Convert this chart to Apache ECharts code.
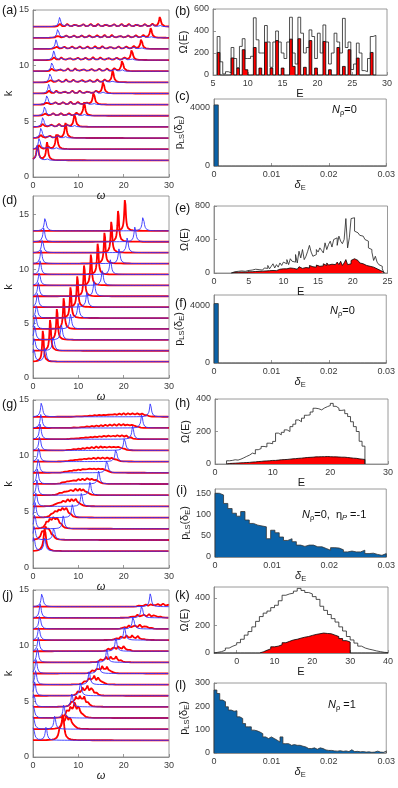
<!DOCTYPE html>
<html><head><meta charset="utf-8">
<script src="https://cdn.jsdelivr.net/npm/echarts@6/dist/echarts.min.js"></script>
<style>html,body{margin:0;padding:0;background:#fff}#c{width:398px;height:788px}</style>
</head><body><div id="c"></div>
<script>
// ---------------- data ----------------
const omegaTicks = [0, 10, 20, 30];
const kTicks = [0, 5, 10, 15];
const rowBase = [1.5, 2.5, 3.5, 4.5, 5.5, 6.5, 7.5, 8.5, 9.5, 10.5, 11.5, 12.5, 13.5];

// panel (a): main peaks per row, plus evenly spaced side bumps between them
const aBlueMain = [1.0, 1.4, 1.8, 2.2, 2.6, 3.1, 3.5, 3.8, 4.2, 4.6, 5.1, 5.5, 5.9];
const aBlueH    = [1.3, 1.1, 1.0, 0.95, 0.9, 0.9, 0.85, 0.85, 0.85, 0.85, 0.85, 0.85, 0.85];
const aRedMain  = [3.1, 5.2, 7.2, 9.2, 11.3, 13.4, 15.5, 17.6, 19.7, 21.8, 23.9, 26.0, 28.0];
const aRedH     = [1.6, 1.5, 1.4, 1.3, 1.25, 1.2, 1.15, 1.1, 1.05, 1.0, 0.95, 0.9, 0.9];
const aRedAtBlue = [1.5, 0.4, 0.3, 0.3, 0.25, 0.25, 0.25, 0.25, 0.25, 0.25, 0.25, 0.25, 0.25];
const aBumpBlue = 0.22, aBumpRed = 0.25;

// panel (d)
const dBlueLow  = [0.2, 0.3, 0.4, 0.6, 0.8, 1.0, 1.2, 1.4, 1.6, 1.8, 2.1, 2.4, 2.7];
const dBlueHigh = [2.7, 4.5, 6.3, 8.3, 10.0, 11.9, 13.5, 15.3, 17.1, 19.0, 20.8, 22.5, 24.3];
const dRed      = [2.2, 3.8, 5.3, 6.8, 8.3, 9.8, 11.3, 12.8, 14.3, 15.8, 17.3, 18.8, 20.3];
const dBlueLowH = 1.3, dBlueHighH = 1.4, dRedH = 3.0;

// panel (g)
const gBlueLow  = [0.2, 0.3, 0.4, 0.5, 0.7, 0.9, 1.0, 1.2, 1.3, 1.5, 1.6, 1.8, 1.9];
const gBlueHigh = [2.6, 4.6, 6.7, 8.7, 10.7, 12.6, 14.5, 16.3, 18.3, 20.2, 22.0, 24.0, 25.9];
// red ripples: [first position, spacing, heights]
const gRed = [
  [2.6, 1.0, [2.0]],
  [2.0, 0.8, [0.6, 1.0, 0.9, 0.3]],
  [3.0, 0.8, [0.5, 0.8, 0.9, 0.9, 0.3]],
  [4.2, 0.8, [0.35, 0.5, 0.6, 0.7, 0.7, 0.25]],
  [5.0, 0.9, [0.2, 0.35, 0.45, 0.5, 0.55, 0.55, 0.2]],
  [5.8, 0.9, [0.15, 0.25, 0.35, 0.4, 0.45, 0.45, 0.45, 0.2]],
  [6.5, 0.9, [0.1, 0.2, 0.25, 0.3, 0.35, 0.38, 0.4, 0.4, 0.4, 0.15]],
  [7.0, 0.95, [0.08, 0.15, 0.2, 0.25, 0.3, 0.32, 0.35, 0.35, 0.35, 0.35, 0.15]],
  [7.5, 1.0, [0.06, 0.1, 0.15, 0.2, 0.25, 0.28, 0.3, 0.32, 0.33, 0.33, 0.33, 0.15]],
  [8.0, 1.0, [0.05, 0.08, 0.12, 0.16, 0.2, 0.24, 0.27, 0.3, 0.31, 0.32, 0.32, 0.32, 0.15]],
  [8.5, 1.0, [0.04, 0.06, 0.1, 0.13, 0.17, 0.2, 0.23, 0.26, 0.28, 0.3, 0.3, 0.3, 0.3, 0.13]],
  [9.0, 1.0, [0.03, 0.05, 0.08, 0.11, 0.14, 0.17, 0.2, 0.23, 0.25, 0.27, 0.28, 0.29, 0.29, 0.29, 0.12]],
  [9.5, 1.05, [0.02, 0.04, 0.06, 0.09, 0.12, 0.15, 0.18, 0.2, 0.22, 0.24, 0.26, 0.27, 0.28, 0.28, 0.28, 0.1]]
];

// panel (j)
const jBlueLow  = [0.1, 0.1, 0.1, 0.2, 0.4, 0.6, 0.7, 1.0, 1.2, 1.3, 1.5, 1.6, 2.0];
const jBlueHigh = [2.9, 4.8, 6.8, 8.6, 10.5, 12.4, 14.4, 16.3, 18.3, 20.2, 22.1, 24.0, 25.9];
const jRed = [
  [5.9, 0.7, [0.8, 2.4]],
  [6.6, 0.8, [0.8, 1.1, 1.0, 0.3]],
  [7.5, 0.85, [0.6, 1.0, 1.2, 1.0, 0.3]],
  [8.6, 0.9, [0.5, 0.8, 0.9, 0.8, 0.3]],
  [10.0, 1.0, [0.4, 0.7, 0.8, 0.7, 0.2]],
  [11.5, 1.0, [0.35, 0.6, 0.7, 0.65, 0.2]],
  [13.2, 1.05, [0.3, 0.5, 0.6, 0.55, 0.15]],
  [15.0, 1.1, [0.25, 0.45, 0.5, 0.5, 0.15]],
  [16.6, 1.15, [0.2, 0.4, 0.45, 0.45, 0.12]],
  [18.3, 1.2, [0.15, 0.35, 0.4, 0.4, 0.35, 0.1]],
  [20.0, 1.2, [0.15, 0.3, 0.35, 0.35, 0.3, 0.1]],
  [21.8, 1.25, [0.12, 0.25, 0.3, 0.3, 0.28, 0.1]],
  [23.5, 1.3, [0.1, 0.2, 0.25, 0.25, 0.25, 0.2]]
];

// panel (b) histogram, bins of 0.4 starting at 5.6
const bStart = 5.6, bWidth = 0.4;
const bAll = [350,120,10,30,20,250,150,65,260,330,150,150,170,520,320,200,200,450,300,70,300,400,300,200,150,300,525,200,100,525,380,200,250,410,350,150,380,200,455,300,100,200,380,300,200,515,250,300,50,100,290,200,40,30,150,350,360];
const bRed = [205,0,0,0,0,155,0,63,0,230,48,0,0,250,0,63,0,298,0,63,0,313,0,63,0,0,326,78,0,330,0,70,0,313,0,63,0,0,305,0,48,0,0,250,0,78,0,230,0,0,154,0,0,0,0,205,0];

// panel (e) histogram, bins of 0.25 starting at 2.5
const eStart = 2.5, eWidth = 0.25;
const eAll = [10,15,12,20,18,25,15,20,22,30, 25,35,30,45,28,40,50,35,45,60, 55,90,50,80,110,60,100,70,120,90,
  130,110,160,100,170,140,130,220,120,260, 180,280,160,200,260,330,250,200,220,280, 250,300,270,240,360,280,340,380,310,400,
  420,330,440,380,350,400,650,300,420,650, 660,500,480,470,450,440,420,400,380,300, 280,250,150,200,130,100,80,50];
const eRed = [5,8,5,10,8,12,8,10,12,14, 10,15,12,18,15,20,18,22,20,25, 22,28,25,30,40,28,35,45,30,50,
  40,50,45,60,50,55,70,45,60,75, 55,70,65,80,60,90,75,85,70,95, 80,100,85,110,90,120,95,105,125,100,
  110,130,100,140,90,120,160,100,110,150, 170,165,150,140,120,110,100,90,85,80, 75,70,60,50,40,30,20,10];

// panel (h) histogram, bins of 0.5 starting at 2
const hStart = 2, hWidth = 0.5;
const hAll = [20,22,26,24,30,38,47,55,67,62,88,95,108,105,128,125,139,190,180,195,210,200,230,245,271,260,282,300,302,320,343,340,333,345,353,360,373,355,343,330,333,310,292,260,230,200,140,110];
const hRed = [3,4,5,6,7,8,9,10,12,13,15,16,18,19,20,22,22,24,26,27,28,30,32,33,35,36,38,40,41,42,44,44,45,45,46,45,44,44,43,42,42,40,38,36,35,32,30,28];

// panel (k) histogram, bins of 1 starting at -6
const kStart = -6, kWidth = 1;
const kAll = [5,10,20,36,50,60,75,100,130,156,190,230,265,290,305,330,347,380,420,430,435,450,470,455,440,430,410,390,340,310,280,250,225,190,160,120,95,72,50,36,28,22,15,10,5,3];
const kRed = [0,0,0,0,0,0,0,0,0,0,0,0,8,20,30,45,50,60,75,85,95,100,108,115,120,128,135,140,145,142,140,130,120,105,90,80,0,0,0,0,0,0,0,0,0,0];

// level-spacing histograms
const cWidth = 0.00075;
const cVals = [4150,0,0,0,0,0,0,0,0,0,0,0,0,0,0,0,0,0,0,0,0,0,0,0,0,0,0,0,0,0,0,0,0,0,0,0,0,0,0,0];
const fVals = [4150,0,0,0,0,0,0,0,0,0,0,0,0,0,0,0,0,0,0,0,0,0,0,0,0,0,0,0,0,0,0,0,0,0,0,0,0,0,0,0];
const iVals = [150,146,126,114,103,96,107,87,79,75,73,71,43,63,57,47,39,43,36,28,25,28,28,24,24,20,16,22,21,17,12,14,12,12,16,8,9,6,4,8];
const lWidth = 0.0005;
const lVals = [270,255,227,220,198,184,179,181,155,148,126,112,112,98,95,90,83,69,62,69,62,55,47,69,40,40,33,36,33,33,29,26,19,19,22,16,22,19,13,11,11,9,8,10,7,9,6,14,6,7,5,6,4,5,3,4,8,4,3,7];

// ---------------- helpers ----------------
const FONT = '"Liberation Sans", Arial, Helvetica, sans-serif';
const AX = '#808080';
const RED = '#ff0000', BLUE = '#3434ff';
const XN = 600;

function lorentz(peaks, gamma, base) {
  const d = [];
  for (let i = 0; i <= XN; i++) {
    const x = i * 30 / XN;
    let y = base;
    for (const p of peaks) y += p[1] / (1 + ((x - p[0]) / (p[2] || gamma)) ** 2);
    d.push([x, y]);
  }
  return d;
}
function ripple(spec) {
  return spec[2].map((h, j) => [spec[0] + j * spec[1], h]);
}
function stepData(start, w, vals) {
  const d = [[start, 0]];
  vals.forEach((v, i) => d.push([start + i * w, v]));
  d.push([start + vals.length * w, vals[vals.length - 1]]);
  d.push([start + vals.length * w, 0]);
  return d;
}

const grids = [], xAxis = [], yAxis = [], series = [], graphic = [];
const rich = {
  m: { fontSize: 11, fontFamily: FONT, color: '#1a1a1a', lineHeight: 14 },
  mi: { fontSize: 11, fontFamily: FONT, fontStyle: 'italic', color: '#1a1a1a', lineHeight: 14 },
  s: { fontSize: 7.5, fontFamily: FONT, color: '#1a1a1a', lineHeight: 8, verticalAlign: 'bottom' }
};
function axisBase(gi, min, max, labels, ticks, name, nameGap, extra) {
  return Object.assign({
    type: 'value', gridIndex: gi, min: min, max: max,
    axisLine: { show: true, onZero: false, lineStyle: { color: AX, width: 0.8 } },
    axisTick: { show: true, inside: true, length: 3, customValues: ticks, lineStyle: { color: AX, width: 0.8 } },
    axisLabel: { show: true, customValues: labels, fontSize: 9, color: '#3a3a3a', fontFamily: FONT, margin: 4,
      formatter: v => String(+(+v).toPrecision(6)) },
    splitLine: { show: false },
    name: name, nameLocation: 'middle', nameGap: nameGap,
    nameTextStyle: { fontSize: 11, fontFamily: FONT, color: '#1a1a1a', rich: rich }
  }, extra || {});
}
function addPanel(box, x, y) {
  const gi = grids.length;
  grids.push({ left: box[0], top: box[1], width: box[2], height: box[3], show: true, borderColor: AX, borderWidth: 0.8, backgroundColor: 'transparent' });
  xAxis.push(axisBase(gi, x[0], x[1], x[2], x[3] || x[2], x[4], x[5], x[6]));
  yAxis.push(axisBase(gi, y[0], y[1], y[2], y[3] || y[2], y[4], y[5], y[6]));
  return gi;
}
function line(gi, data, color, width, z) {
  series.push({ type: 'line', xAxisIndex: gi, yAxisIndex: gi, data: data, symbol: 'none', silent: true,
    animation: false, lineStyle: { color: color, width: width }, z: z });
}
function hist(gi, data, lineColor, fill, z) {
  series.push({ type: 'line', step: 'end', xAxisIndex: gi, yAxisIndex: gi, data: data, symbol: 'none', silent: true,
    animation: false, lineStyle: { color: lineColor, width: 0.8 }, areaStyle: fill ? { color: fill, opacity: 1 } : undefined, z: z });
}

const omegaName = '{mi|ω}';
// ---------------- waterfall panels ----------------
function waterfall(box, ymax, redRows, blueRows, gRedW, gBlueW) {
  const gi = addPanel(box, [0, 30, omegaTicks, null, omegaName, 8],
    [0, ymax, kTicks, null, 'k', 19]);
  redRows.forEach((pk, i) => line(gi, lorentz(pk, gRedW, rowBase[i]), RED, 1.8, 2));
  blueRows.forEach((pk, i) => line(gi, lorentz(pk, gBlueW, rowBase[i]), BLUE, 0.9, 3));
}
// (a)
{
  const red = [], blue = [];
  rowBase.forEach((b, i) => {
    const n = i + 1, sp = (aRedMain[i] - aBlueMain[i]) / n;
    const r = [[aRedMain[i], aRedH[i]], [aBlueMain[i], aRedAtBlue[i]]];
    const bl = [[aBlueMain[i], aBlueH[i]], [aRedMain[i], 0.12]];
    for (let j = 1; j < n; j++) { r.push([aBlueMain[i] + j * sp, aBumpRed]); bl.push([aBlueMain[i] + j * sp, aBumpBlue]); }
    red.push(r); blue.push(bl);
  });
  waterfall([33, 10, 136, 167], 15, red, blue, 0.25, 0.25);
}
// (d)
waterfall([33, 196, 136, 182], 16.7,
  dRed.map(p => [[p, dRedH]]),
  dBlueLow.map((p, i) => [[p, dBlueLowH], [dBlueHigh[i], dBlueHighH]]), 0.2, 0.25);
// (g)
waterfall([33, 400, 136, 168], 15,
  gRed.map(ripple),
  gBlueLow.map((p, i) => [[p, 1.4], [gBlueHigh[i], 1.2]]), 0.33, 0.25);
// (j)
waterfall([33, 590, 136, 167], 15,
  jRed.map(ripple),
  jBlueLow.map((p, i) => [[p, 1.3], [jBlueHigh[i], 1.2]]), 0.3, 0.25);

// ---------------- density of states panels ----------------
const omegaE = '{m|Ω(E)}';
let gi;
gi = addPanel([213, 9, 174, 66], [5, 30, [5, 10, 15, 20, 25, 30], null, 'E', 8], [0, 600, [0, 200, 400, 600], null, omegaE, 22]);
hist(gi, stepData(bStart, bWidth, bRed), '#000', RED, 2);
hist(gi, stepData(bStart, bWidth, bAll), '#222', null, 3);

gi = addPanel([214, 206, 173.5, 67], [0, 25, [0, 5, 10, 15, 20, 25], null, 'E', 8], [0, 800, [0, 400, 800], null, omegaE, 22]);
hist(gi, stepData(eStart, eWidth, eRed), '#000', RED, 2);
hist(gi, stepData(eStart, eWidth, eAll), '#222', null, 3);

gi = addPanel([215, 399, 173, 65], [0, 30, [0, 10, 20, 30], null, 'E', 8], [0, 400, [0, 200, 400], null, omegaE, 22]);
hist(gi, stepData(hStart, hWidth, hRed), '#000', RED, 2);
hist(gi, stepData(hStart, hWidth, hAll), '#222', null, 3);

gi = addPanel([214, 587, 174, 66], [-6, 40, [0, 10, 20, 30, 40], null, 'E', 8], [0, 480, [0, 200, 400], null, omegaE, 22]);
hist(gi, stepData(kStart, kWidth, kRed), '#000', RED, 2);
hist(gi, stepData(kStart, kWidth, kAll), '#222', null, 3);

// ---------------- level spacing panels ----------------
const deltaTicks = [0, 0.01, 0.02, 0.03];
const deltaName = '{mi|δ}{s|E}';
const pName = '{m|p}{s|LS}{m|(δ}{s|E}{m|)}';
const BLUEBAR = '#0a62a8';
gi = addPanel([214, 99, 174, 67], [0, 0.03, deltaTicks, null, deltaName, 10], [0, 4550, [0, 4000], [0, 2000, 4000], pName, 22]);
hist(gi, stepData(0, cWidth, cVals), '#333', BLUEBAR, 2);
gi = addPanel([214, 295, 173.5, 68], [0, 0.03, deltaTicks, null, deltaName, 10], [0, 4750, [0, 4000], [0, 2000, 4000], pName, 22]);
hist(gi, stepData(0, cWidth, fVals), '#333', BLUEBAR, 2);
gi = addPanel([215, 489, 173, 68], [0, 0.03, deltaTicks, null, deltaName, 10], [0, 160, [0, 50, 100, 150], null, pName, 22]);
hist(gi, stepData(0, cWidth, iVals), '#333', BLUEBAR, 2);
gi = addPanel([214, 683, 174, 70], [0, 0.03, deltaTicks, null, deltaName, 10], [0, 300, [0, 100, 200, 300], null, pName, 22]);
hist(gi, stepData(0, lWidth, lVals), '#333', BLUEBAR, 2);

// ---------------- texts ----------------
function txt(x, y, text, size, extra) {
  graphic.push(Object.assign({ type: 'text', x: x, y: y, silent: true,
    style: Object.assign({ text: text, fontSize: size, fontFamily: FONT, fill: '#111', align: 'left', verticalAlign: 'middle' }, extra || {}) }));
}
[['(a)', 2, 11], ['(b)', 175, 12], ['(c)', 175, 97], ['(d)', 2, 201], ['(e)', 175, 209], ['(f)', 175, 304],
 ['(g)', 2, 405], ['(h)', 175, 404], ['(i)', 176, 491], ['(j)', 2, 596], ['(k)', 175, 596], ['(l)', 175, 686]]
  .forEach(l => txt(l[1], l[2], l[0], 12.5));
const nRich = {
  i: { fontSize: 11, fontFamily: FONT, fontStyle: 'italic', fill: '#111', lineHeight: 14 },
  n: { fontSize: 11, fontFamily: FONT, fill: '#111', lineHeight: 14 },
  s: { fontSize: 7.5, fontFamily: FONT, fill: '#111', lineHeight: 8, verticalAlign: 'bottom' },
  si: { fontSize: 7.5, fontFamily: FONT, fontStyle: 'italic', fill: '#111', lineHeight: 8, verticalAlign: 'bottom' }
};
txt(332, 110, '{i|N}{s|ρ}{n|=0}', 11, { rich: nRich });
txt(330, 311, '{i|N}{s|ρ}{n|=0}', 11, { rich: nRich });
txt(302, 515, '{i|N}{s|ρ}{n|=0,  η}{si|P}{n| =-1}', 11, { rich: nRich });
txt(328, 705, '{i|N}{s|ρ}{n| =1}', 11, { rich: nRich });

const chart = echarts.init(document.getElementById('c'), null, { renderer: 'canvas', width: 398, height: 788 });
chart.setOption({ animation: false, backgroundColor: '#fff', grid: grids, xAxis: xAxis, yAxis: yAxis, series: series, graphic: graphic });
</script></body></html>
